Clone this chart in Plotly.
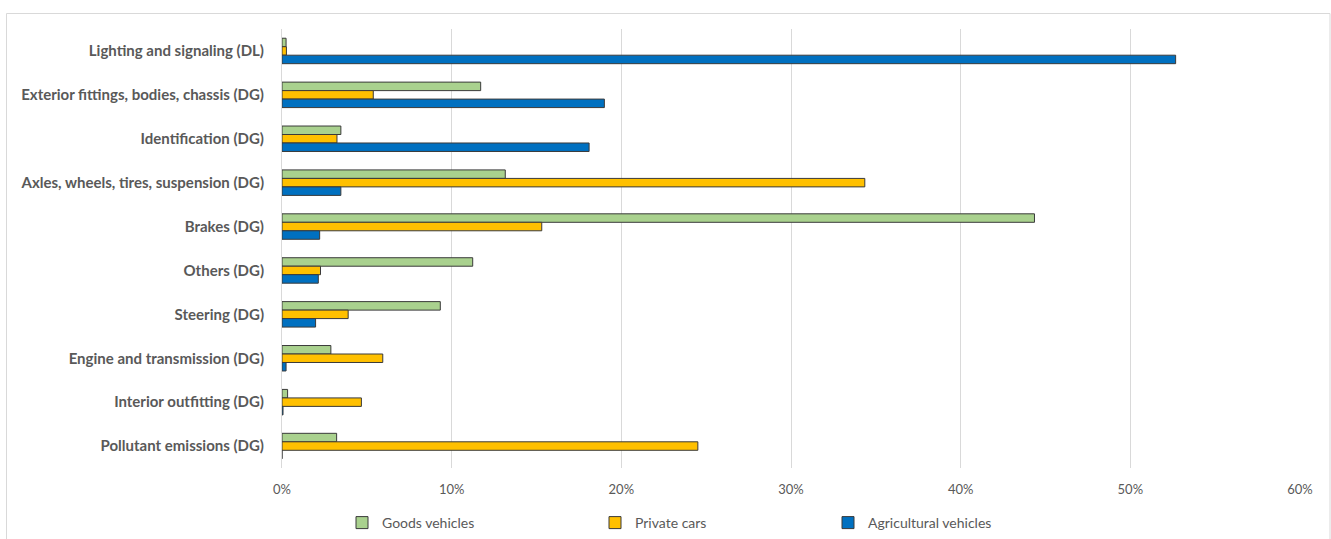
import plotly.graph_objects as go

categories = [
    "Lighting and signaling (DL)",
    "Exterior fittings, bodies, chassis (DG)",
    "Identification (DG)",
    "Axles, wheels, tires, suspension (DG)",
    "Brakes (DG)",
    "Others (DG)",
    "Steering (DG)",
    "Engine and transmission (DG)",
    "Interior outfitting (DG)",
    "Pollutant emissions (DG)",
]
goods_vehicles = [0.0024, 0.1171, 0.0347, 0.1316, 0.4435, 0.1124, 0.0933, 0.0288, 0.0033, 0.0322]
private_cars = [0.0026, 0.0538, 0.0324, 0.3435, 0.1531, 0.0227, 0.0390, 0.0594, 0.0468, 0.2451]
agricultural_vehicles = [0.5267, 0.1900, 0.1810, 0.0347, 0.0222, 0.0214, 0.0198, 0.0024, 0.0006, 0.0]
tick_values = [0, 0.1, 0.2, 0.3, 0.4, 0.5, 0.6]
tick_labels = ["0%", "10%", "20%", "30%", "40%", "50%", "60%"]

series = [
    ("Goods vehicles", goods_vehicles, "#A9D18E", "legend"),
    ("Private cars", private_cars, "#FFC000", "legend2"),
    ("Agricultural vehicles", agricultural_vehicles, "#0070C0", "legend3"),
]

fig = go.Figure()
for name, vals, color, leg in series:
    fig.add_trace(go.Bar(
        y=categories, x=vals, name=name, orientation="h",
        marker=dict(color=color, line=dict(color="#3a3a3a", width=1)),
        legend=leg,
    ))

font_family = "Lato, 'Open Sans', sans-serif"
leg_common = dict(orientation="h", yanchor="middle", xanchor="left",
                  font=dict(family=font_family, size=14, color="#595959"),
                  bgcolor="rgba(0,0,0,0)", itemwidth=30, tracegroupgap=0)
L, PW, B, PH = 282, 1018, 468, 439
leg_y = (B - 523) / PH

fig.update_layout(
    width=1331, height=539,
    margin=dict(l=282, r=31, t=29, b=71, autoexpand=False),
    plot_bgcolor="white", paper_bgcolor="white",
    barmode="group", bargap=0.42, bargroupgap=0,
    xaxis=dict(range=[0, 0.6], tickvals=tick_values, ticktext=tick_labels,
               showgrid=True, gridcolor="#D9D9D9", gridwidth=1,
               zeroline=False, showline=False, ticks="", ticklabelstandoff=12,
               tickfont=dict(family=font_family, size=13, color="#595959")),
    yaxis=dict(autorange="reversed", showgrid=False, zeroline=False,
               showline=True, linecolor="#D9D9D9", linewidth=1, ticks="",
               ticklabelstandoff=14,
               tickfont=dict(family=font_family, size=15, color="#595959", weight="bold")),
    legend=dict(x=(342 - L) / PW, y=leg_y, **leg_common),
    legend2=dict(x=(595 - L) / PW, y=leg_y, **leg_common),
    legend3=dict(x=(828 - L) / PW, y=leg_y, **leg_common),
    showlegend=True,
    shapes=[dict(type="rect", xref="paper", yref="paper",
                 x0=(6.5 - L) / PW, x1=(1330 - L) / PW,
                 y0=(B - 560) / PH, y1=(B - 13.5) / PH,
                 line=dict(color="#D9D9D9", width=1), fillcolor="rgba(0,0,0,0)",
                 layer="below")],
)

fig.write_html("out.html")
